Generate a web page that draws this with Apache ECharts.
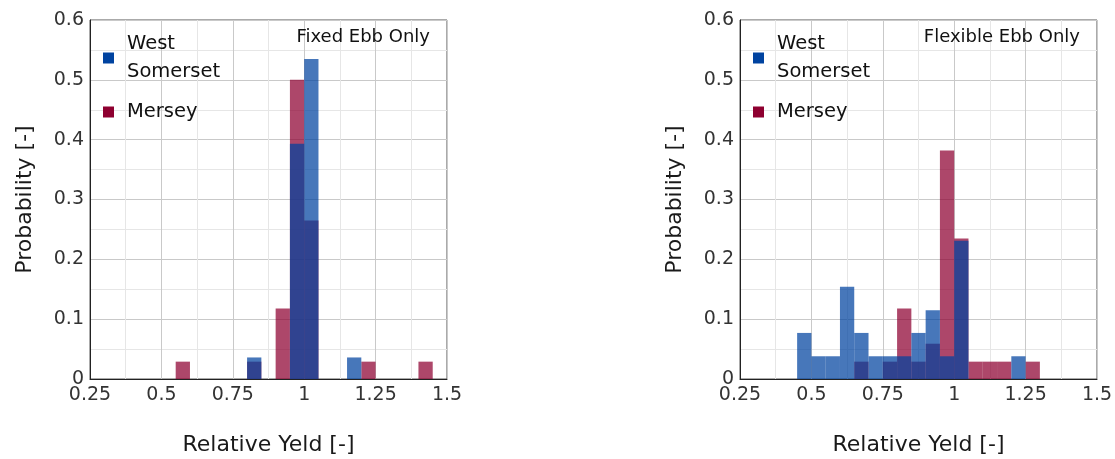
<!DOCTYPE html>
<html>
<head>
<meta charset="utf-8">
<script src="https://cdn.jsdelivr.net/npm/echarts@6/dist/echarts.min.js"></script>
<style>
  html, body { margin: 0; padding: 0; background: #fff; }
  #echarts { width: 1115px; height: 459px; }
</style>
</head>
<body>
<div id="echarts"></div>
<script>
// bin left edges + probabilities
const binWidth = 0.05;

const fixedWestX = [0.80, 0.95, 1.00, 1.15];
const fixedWestP = [0.036, 0.393, 0.535, 0.036];
const fixedMerseyX = [0.55, 0.80, 0.90, 0.95, 1.00, 1.20, 1.40];
const fixedMerseyP = [0.029, 0.029, 0.118, 0.5, 0.265, 0.029, 0.029];

const flexWestX = [0.45, 0.50, 0.55, 0.60, 0.65, 0.70, 0.75, 0.80, 0.85, 0.90, 0.95, 1.00, 1.20];
const flexWestP = [0.077, 0.038, 0.038, 0.154, 0.077, 0.038, 0.038, 0.038, 0.077, 0.115, 0.038, 0.231, 0.038];
const flexMerseyX = [0.65, 0.75, 0.80, 0.85, 0.90, 0.95, 1.00, 1.05, 1.10, 1.15, 1.25];
const flexMerseyP = [0.029, 0.029, 0.118, 0.029, 0.059, 0.382, 0.235, 0.029, 0.029, 0.029, 0.029];

const WEST = 'West Somerset';
const MERSEY = 'Mersey';
const westColor = '#0043a0';
const merseyColor = '#8e0030';
const font = 'DejaVu Sans';

let myChart = echarts.init(document.getElementById('echarts'));

function toBins(xs, ps) {
  return xs.map((x, i) => [x, x + binWidth, ps[i]]);
}

function histSeries(name, color, idx, xs, ps) {
  return {
    name,
    type: 'custom',
    xAxisIndex: idx,
    yAxisIndex: idx,
    itemStyle: { color },
    encode: { x: [0, 1], y: 2 },
    renderItem(params, api) {
      const p0 = api.coord([api.value(0), api.value(2)]);
      const p1 = api.coord([api.value(1), 0]);
      return {
        type: 'rect',
        shape: { x: p0[0], y: p0[1], width: p1[0] - p0[0], height: p1[1] - p0[1] },
        style: { fill: color, opacity: 0.72 },
      };
    },
    data: toBins(xs, ps),
  };
}

function xAxisFor(idx) {
  return {
    gridIndex: idx,
    type: 'value',
    min: 0.25,
    max: 1.5,
    interval: 0.25,
    name: 'Relative Yeld [-]',
    nameLocation: 'middle',
    nameGap: 55,
    nameTextStyle: { fontFamily: font, fontSize: 22, color: '#1a1a1a' },
    axisLine: { show: true, onZero: false, lineStyle: { color: '#222', width: 1 } },
    axisTick: { show: false },
    axisLabel: { fontFamily: font, fontSize: 19, color: '#333', margin: 7 },
    splitLine: { show: true, lineStyle: { color: '#c9c9c9' } },
    minorTick: { show: false, splitNumber: 2 },
    minorSplitLine: { show: true, lineStyle: { color: '#e6e6e6' } },
  };
}

function yAxisFor(idx) {
  return {
    gridIndex: idx,
    type: 'value',
    min: 0,
    max: 0.6,
    interval: 0.1,
    name: 'Probability [-]',
    nameLocation: 'middle',
    nameGap: 54,
    nameTextStyle: { fontFamily: font, fontSize: 22, color: '#1a1a1a' },
    axisLine: { show: true, lineStyle: { color: '#222', width: 1 } },
    axisTick: { show: false },
    axisLabel: { fontFamily: font, fontSize: 19, color: '#333', margin: 6 },
    splitLine: { show: true, lineStyle: { color: '#c9c9c9' } },
    minorTick: { show: false, splitNumber: 2 },
    minorSplitLine: { show: true, lineStyle: { color: '#e6e6e6' } },
  };
}

function legendFor(left) {
  return {
    left,
    top: 30,
    padding: 0,
    orient: 'vertical',
    icon: 'rect',
    itemWidth: 11,
    itemHeight: 11,
    itemGap: 12,
    selectedMode: false,
    data: [WEST, MERSEY],
    formatter: name => (name === WEST ? 'West\nSomerset' : name),
    textStyle: { fontFamily: font, fontSize: 19.5, lineHeight: 28, color: '#111', padding: [0, 0, 0, 8] },
  };
}

let option = {
  animation: false,
  backgroundColor: '#fff',
  grid: [
    { left: 90, top: 20, width: 357, height: 359, outerBoundsMode: 'none', containLabel: false,
      show: true, borderColor: '#555', borderWidth: 1 },
    { left: 740, top: 20, width: 357, height: 359, outerBoundsMode: 'none', containLabel: false,
      show: true, borderColor: '#555', borderWidth: 1 },
  ],
  title: [
    { text: 'Fixed Ebb Only', right: 685, top: 28, padding: 0,
      textStyle: { fontFamily: font, fontSize: 18, fontWeight: 'normal', color: '#111' } },
    { text: 'Flexible Ebb Only', right: 35, top: 28, padding: 0,
      textStyle: { fontFamily: font, fontSize: 18, fontWeight: 'normal', color: '#111' } },
  ],
  legend: [legendFor(103), legendFor(753)],
  xAxis: [xAxisFor(0), xAxisFor(1)],
  yAxis: [yAxisFor(0), yAxisFor(1)],
  series: [
    // Mersey first so the blue one sits on top
    histSeries(MERSEY, merseyColor, 0, fixedMerseyX, fixedMerseyP),
    histSeries(WEST, westColor, 0, fixedWestX, fixedWestP),
    histSeries(MERSEY, merseyColor, 1, flexMerseyX, flexMerseyP),
    histSeries(WEST, westColor, 1, flexWestX, flexWestP),
  ],
};
myChart.setOption(option);
</script>
</body>
</html>
